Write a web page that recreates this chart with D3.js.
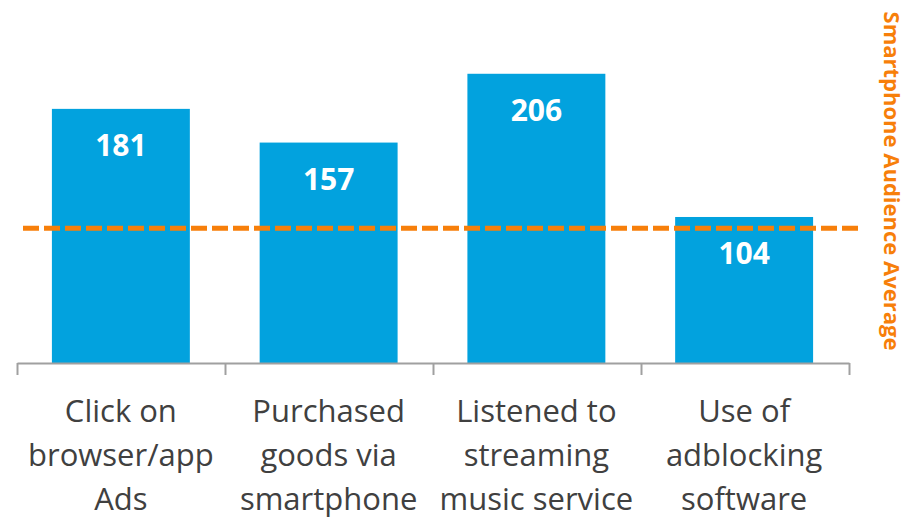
<!DOCTYPE html>
<html>
<head>
<meta charset="utf-8">
<script src="https://cdn.jsdelivr.net/npm/d3@7"></script>
<style>
  body { margin: 0; background: #fff; }
  svg { display: block; }
</style>
</head>
<body>
<div id="chart"></div>
<script>
// data
const categories = [
    ["Click on", "browser/app", "Ads"],
    ["Purchased", "goods via", "smartphone"],
    ["Listened to", "streaming", "music service"],
    ["Use of", "adblocking", "software"]
];
const values = [181, 157, 206, 104];
const averageValue = 96;   // dashed line, sits a little under 100 in the picture
const averageLabel = "Smartphone Audience Average";

const width = 917, height = 519;
const barColor = "#02A2DE";
const avgColor = "#F77F0A";

const svg = d3.select("#chart").append("svg")
    .attr("width", width)
    .attr("height", height);

// band scale, bars centred in each slot
const x = d3.scaleBand()
    .domain(d3.range(values.length))
    .range([17, 848])
    .paddingInner(0.336)
    .paddingOuter(0.168);

const y = d3.scaleLinear()
    .domain([0, 250])
    .range([363, 363 - 250 * 1.404]);

// bars
svg.selectAll("rect.bar")
    .data(values)
    .join("rect")
    .attr("class", "bar")
    .attr("x", (d, i) => x(i))
    .attr("y", d => y(d))
    .attr("width", x.bandwidth())
    .attr("height", d => y(0) - y(d))
    .attr("fill", barColor);

// value labels inside bars
svg.selectAll("text.value")
    .data(values)
    .join("text")
    .attr("class", "value")
    .attr("x", (d, i) => x(i) + x.bandwidth() / 2)
    .attr("y", d => y(d) + 47)
    .attr("text-anchor", "middle")
    .attr("font-family", "'Open Sans', sans-serif")
    .attr("font-weight", "bold")
    .attr("font-size", 30)
    .attr("fill", "#fff")
    .text(d => d);

// axis with ticks at slot boundaries
const edge = d3.scaleLinear().domain([0, values.length]).range([17, 849]);
const axis = svg.append("g")
    .attr("transform", `translate(0,${y(0)})`)
    .call(d3.axisBottom(edge)
        .tickValues(d3.range(values.length + 1))
        .tickFormat("")
        .tickSize(12)
        .tickSizeOuter(0));
axis.selectAll("path, line")
    .attr("stroke", "#A0A0A0")
    .attr("stroke-width", 2);

// category labels
const labels = svg.selectAll("text.cat")
    .data(categories)
    .join("text")
    .attr("class", "cat")
    .attr("text-anchor", "middle")
    .attr("font-family", "'Open Sans', sans-serif")
    .attr("font-size", 31)
    .attr("fill", "#404040");
labels.selectAll("tspan")
    .data((d, i) => d.map(t => ({ t, i })))
    .join("tspan")
    .attr("x", d => x(d.i) + x.bandwidth() / 2)
    .attr("y", (d, j) => 422 + j * 44)
    .text(d => d.t);

// average dashed line
svg.append("line")
    .attr("x1", 23)
    .attr("x2", 863)
    .attr("y1", y(averageValue))
    .attr("y2", y(averageValue))
    .attr("stroke", avgColor)
    .attr("stroke-width", 5)
    .attr("stroke-dasharray", "16,5");

// vertical label on the right
svg.append("text")
    .attr("transform", "translate(884,181) rotate(90)")
    .attr("text-anchor", "middle")
    .attr("font-family", "'Open Sans', sans-serif")
    .attr("font-weight", "bold")
    .attr("font-size", 22)
    .attr("fill", avgColor)
    .text(averageLabel);
</script>
</body>
</html>
